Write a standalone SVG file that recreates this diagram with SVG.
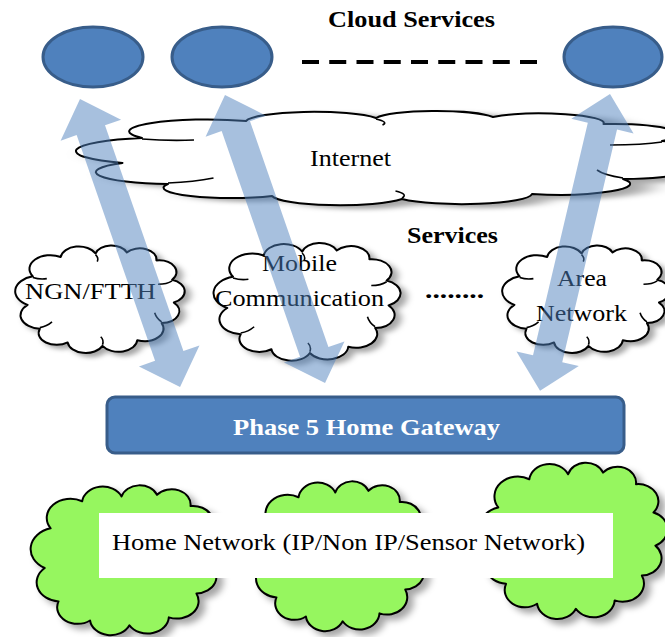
<svg xmlns="http://www.w3.org/2000/svg" xmlns:xlink="http://www.w3.org/1999/xlink" width="665" height="637" viewBox="0 0 665 637">
  <style>
    .svc { fill: #4f81bd; stroke: #385d8a; stroke-width: 3; }
    .outline { stroke: #000; stroke-width: 2; vector-effect: non-scaling-stroke; stroke-linejoin: round; }
    .inner { fill: none; stroke: #000; stroke-width: 1.6; vector-effect: non-scaling-stroke; }
    .txt { font-family: "Liberation Serif", "Times New Roman", serif; font-size: 24px; fill: #000; }
    .bold { font-weight: bold; }
    .flow { fill: #4f81bd; fill-opacity: 0.5; }
  </style>
  <defs>
    <filter id="shadow" x="-10%" y="-10%" width="130%" height="130%">
      <feDropShadow dx="3" dy="3" stdDeviation="2" flood-color="#000" flood-opacity="0.35"/>
    </filter>
    <!-- generic cloud outline in a 100x100 box -->
    <path id="cloud-shape" class="outline" d="M 9,56 A 13.5,13.5 0 0 1 12,31 A 12,12 0 0 1 28,14 A 10.5,10.5 0 0 1 48,11 A 9.5,9.5 0 0 1 66,10 A 9.6,9.6 0 0 1 83,17 A 10.3,10.3 0 0 1 92,34 A 10.8,10.8 0 0 1 93,54 A 10.5,10.5 0 0 1 86,72 A 11,11 0 0 1 72,87 A 10.8,10.8 0 0 1 52,92 A 10.5,10.5 0 0 1 32,89 A 10.4,10.4 0 0 1 16,77 A 12,12 0 0 1 9,56 Z"/>
    <path id="cloud-inner" class="inner" d="M 12,32 q 4,2 8,1 M 48,12 q 2,3 1,6 M 92,35 q -3,3 -8,3 M 86,71 q -3,-3 -4,-8 M 52,91 q 1,-4 -1,-7 M 16,76 q 4,-1 7,-5"/>
    <!-- double-headed flow arrow, pointing along +y, length 305 -->
    <polygon id="flow-arrow" points="0,0 32,33 15,33 15,272 32,272 0,305 -32,272 -15,272 -15,33 -32,33"/>
  </defs>

  <g font-family="'Liberation Serif', 'Times New Roman', serif">
  <!-- cloud services -->
  <g id="cloud-services">
    <text class="txt bold" x="328" y="27" textLength="167" lengthAdjust="spacingAndGlyphs">Cloud Services</text>
    <g id="service-1"><ellipse class="svc" cx="93" cy="57" rx="50" ry="30"/></g>
    <g id="service-2"><ellipse class="svc" cx="222" cy="57" rx="50" ry="30"/></g>
    <g id="service-n"><ellipse class="svc" cx="613" cy="57" rx="49" ry="30"/></g>
    <line x1="302" y1="62" x2="537" y2="62" stroke="#000" stroke-width="4" stroke-dasharray="17 10.25"/>
  </g>

  <!-- internet -->
  <g id="internet">
    <g filter="url(#shadow)" transform="translate(64,107) scale(6.5,1)">
      <use xlink:href="#cloud-shape" fill="#fff"/>
      <use xlink:href="#cloud-inner"/>
    </g>
    <text class="txt" x="310" y="166" textLength="81" lengthAdjust="spacingAndGlyphs">Internet</text>
  </g>

  <text class="txt bold" x="407" y="243" textLength="91" lengthAdjust="spacingAndGlyphs">Services</text>

  <!-- access networks -->
  <g id="ngn-ftth">
    <g filter="url(#shadow)" transform="translate(12,241) scale(1.74,1.14)">
      <use xlink:href="#cloud-shape" fill="#fff"/>
      <use xlink:href="#cloud-inner"/>
    </g>
    <text class="txt" x="25" y="299" textLength="131" lengthAdjust="spacingAndGlyphs">NGN/FTTH</text>
  </g>
  <g id="mobile">
    <g filter="url(#shadow)" transform="translate(210,238) scale(1.92,1.25)">
      <use xlink:href="#cloud-shape" fill="#fff"/>
      <use xlink:href="#cloud-inner"/>
    </g>
    <text class="txt" x="262" y="271" textLength="75" lengthAdjust="spacingAndGlyphs">Mobile</text>
    <text class="txt" x="215" y="306" textLength="169" lengthAdjust="spacingAndGlyphs">Communication</text>
  </g>
  <text class="txt bold" x="425" y="298" textLength="59" lengthAdjust="spacingAndGlyphs">........</text>
  <g id="area-network">
    <g filter="url(#shadow)" transform="translate(499,241) scale(1.72,1.14)">
      <use xlink:href="#cloud-shape" fill="#fff"/>
      <use xlink:href="#cloud-inner"/>
    </g>
    <text class="txt" x="557" y="286" textLength="50" lengthAdjust="spacingAndGlyphs">Area</text>
    <text class="txt" x="536" y="321" textLength="91" lengthAdjust="spacingAndGlyphs">Network</text>
  </g>

  <!-- two-way links between cloud services and the gateway -->
  <g id="connectors">
    <use xlink:href="#flow-arrow" class="flow" transform="translate(80,99) rotate(-19.15)"/>
    <use xlink:href="#flow-arrow" class="flow" transform="translate(225,95) rotate(-19.15)"/>
    <use xlink:href="#flow-arrow" class="flow" transform="translate(610,94) rotate(13.26)"/>
  </g>

  <!-- gateway -->
  <g id="gateway">
    <rect class="svc" x="107" y="397" width="517" height="56" rx="8"/>
    <text class="txt bold" x="233" y="435" style="fill:#fff" textLength="267" lengthAdjust="spacingAndGlyphs">Phase 5 Home Gateway</text>
  </g>

  <!-- home networks -->
  <g id="home-net-1" filter="url(#shadow)" transform="translate(27,479) scale(1.97,1.59)">
    <use xlink:href="#cloud-shape" fill="#96f65e"/>
  </g>
  <g id="home-net-2" filter="url(#shadow)" transform="translate(247,475) scale(1.84,1.59)">
    <use xlink:href="#cloud-shape" fill="#96f65e"/>
  </g>
  <g id="home-net-3" filter="url(#shadow)" transform="translate(475,456) scale(1.94,1.66)">
    <use xlink:href="#cloud-shape" fill="#96f65e"/>
  </g>
  <g id="home-network-label">
    <rect x="99" y="513" width="514" height="65" fill="#fff"/>
    <text class="txt" x="112" y="550" textLength="473" lengthAdjust="spacingAndGlyphs">Home Network (IP/Non IP/Sensor Network)</text>
  </g>
  </g>
</svg>
